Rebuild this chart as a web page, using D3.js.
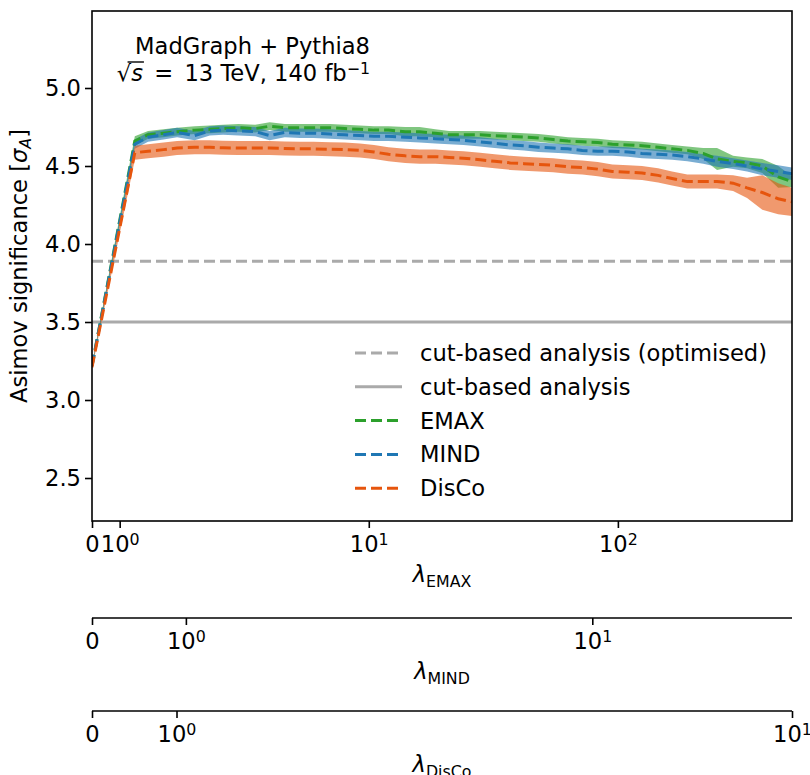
<!DOCTYPE html>
<html><head><meta charset="utf-8">
<script src="https://cdn.jsdelivr.net/npm/d3@7"></script>
<style>
body{margin:0;background:#fff}
svg text{font-family:"DejaVu Sans",sans-serif;fill:#000}
</style>
</head><body>
<svg id="c" width="810" height="775"></svg>
<script>
// ---------------- data ----------------
const lambdaEMAX = [0,1.15,1.3,1.5,1.7,2,2.3,2.6,3,3.5,4,4.6,5.3,6,7,8,9.2,10.5,12,14,16,18.5,21,24,28,32,37,42,48,55,63,72,83,95,110,125,145,165,190,220,250,290,330,380,440,500];
const emaxMean = [3.22,4.66,4.70,4.71,4.72,4.73,4.735,4.74,4.745,4.74,4.755,4.745,4.745,4.745,4.745,4.74,4.735,4.73,4.73,4.72,4.72,4.71,4.70,4.70,4.70,4.695,4.69,4.685,4.68,4.67,4.66,4.655,4.65,4.64,4.635,4.63,4.62,4.61,4.60,4.58,4.545,4.53,4.52,4.50,4.43,4.40];
const emaxErr  = [0.01,0.03,0.025,0.025,0.025,0.025,0.025,0.025,0.025,0.025,0.025,0.025,0.025,0.025,0.025,0.025,0.025,0.025,0.025,0.03,0.03,0.025,0.025,0.025,0.025,0.025,0.025,0.025,0.025,0.025,0.025,0.025,0.025,0.025,0.025,0.025,0.025,0.025,0.025,0.035,0.07,0.035,0.035,0.045,0.07,0.035];
const mindMean = [3.22,4.64,4.685,4.70,4.715,4.695,4.725,4.73,4.725,4.72,4.695,4.715,4.71,4.71,4.705,4.70,4.695,4.69,4.69,4.685,4.68,4.675,4.67,4.665,4.655,4.645,4.635,4.63,4.62,4.615,4.61,4.60,4.595,4.595,4.59,4.58,4.575,4.57,4.56,4.545,4.53,4.515,4.50,4.48,4.465,4.45];
const mindErr  = [0.01,0.03,0.03,0.03,0.03,0.03,0.03,0.03,0.03,0.03,0.03,0.03,0.03,0.03,0.03,0.03,0.03,0.03,0.03,0.03,0.03,0.03,0.03,0.03,0.03,0.03,0.03,0.03,0.03,0.03,0.03,0.03,0.03,0.03,0.03,0.03,0.03,0.03,0.03,0.03,0.035,0.035,0.035,0.04,0.04,0.04];
const discoMean = [3.21,4.585,4.595,4.605,4.615,4.62,4.62,4.617,4.615,4.615,4.615,4.612,4.61,4.61,4.607,4.605,4.60,4.59,4.575,4.565,4.56,4.56,4.555,4.55,4.54,4.53,4.52,4.515,4.51,4.505,4.495,4.49,4.48,4.465,4.46,4.455,4.44,4.42,4.40,4.40,4.40,4.39,4.36,4.33,4.29,4.27];
const discoErr  = [0.01,0.045,0.045,0.045,0.045,0.045,0.045,0.045,0.045,0.045,0.045,0.045,0.045,0.045,0.045,0.045,0.045,0.045,0.045,0.045,0.045,0.045,0.045,0.045,0.045,0.045,0.045,0.045,0.045,0.045,0.045,0.045,0.045,0.045,0.045,0.045,0.045,0.045,0.045,0.045,0.045,0.05,0.065,0.11,0.10,0.09];
const cutOptimised = 3.89;
const cutBased = 3.50;
const yTicks = [2.5,3.0,3.5,4.0,4.5,5.0];
const emaxTicks = [0,1,10,100];
const mindTicks = [0,1,10];
const discoTicks = [0,1,10];
const series = [
  {name:"EMAX",  mean:emaxMean,  err:emaxErr,  color:"#2ca02c", fill:"rgba(44,160,44,0.6)"},
  {name:"MIND",  mean:mindMean,  err:mindErr,  color:"#1f77b4", fill:"rgba(31,119,180,0.6)"},
  {name:"DisCo", mean:discoMean, err:discoErr, color:"#e6550d", fill:"rgba(230,85,13,0.6)"}
];

// ---------------- layout ----------------
const L=92, R=792, T=11, B=521;
const FS = 22.6;
const svg = d3.select("#c");

// symlog-like transform (linear below 1, log10 above)
const symT = a => v => v <= 1 ? v*a : a + Math.log10(v);
const tE = symT(0.1111), tM = symT(0.231), tD = symT(0.1373);
const xE = d3.scaleLinear().domain([0, tE(500)]).range([L,R]);
const xM = d3.scaleLinear().domain([0, tM(31)]).range([L,R]);
const xD = d3.scaleLinear().domain([0, tD(10)]).range([L,R]);
const y = d3.scaleLinear().domain([2.2244, 5.4936]).range([B,T]);

svg.append("defs").append("clipPath").attr("id","clip")
  .append("rect").attr("x",L).attr("y",T).attr("width",R-L).attr("height",B-T);
const plot = svg.append("g").attr("clip-path","url(#clip)");

// horizontal reference lines
plot.append("line").attr("x1",L).attr("x2",R).attr("y1",y(cutOptimised)).attr("y2",y(cutOptimised))
  .attr("stroke","#aaaaaa").attr("stroke-width",3).attr("stroke-dasharray","11,5");
plot.append("line").attr("x1",L).attr("x2",R).attr("y1",y(cutBased)).attr("y2",y(cutBased))
  .attr("stroke","#aaaaaa").attr("stroke-width",3);

const idx = d3.range(lambdaEMAX.length);
const px = i => xE(tE(lambdaEMAX[i]));
series.forEach(s => {
  const area = d3.area().x(px).y0(i => y(s.mean[i]-s.err[i])).y1(i => y(s.mean[i]+s.err[i]));
  plot.append("path").attr("d", area(idx)).attr("fill", s.fill).attr("stroke","none");
});
series.forEach(s => {
  const line = d3.line().x(px).y(i => y(s.mean[i]));
  plot.append("path").attr("d", line(idx)).attr("fill","none").attr("stroke", s.color)
    .attr("stroke-width",3).attr("stroke-dasharray","11,5");
});

// frame
svg.append("rect").attr("x",L).attr("y",T).attr("width",R-L).attr("height",B-T)
  .attr("fill","none").attr("stroke","#000").attr("stroke-width",1.6);

// y axis
const yAxis = svg.append("g").attr("transform",`translate(${L},0)`)
  .call(d3.axisLeft(y).tickValues(yTicks).tickFormat(d3.format(".1f")).tickSize(7).tickSizeOuter(0).tickPadding(4));
yAxis.select(".domain").remove();
yAxis.selectAll(".tick line").attr("stroke-width",1.6);
yAxis.selectAll(".tick text").attr("font-size",FS).attr("font-family","DejaVu Sans");

// x axes
function xAxis(scale, tf, ticks, yPos, label, drawDomain){
  const g = svg.append("g").attr("transform",`translate(0,${yPos})`)
    .call(d3.axisBottom(scale).tickValues(ticks.map(tf)).tickFormat("").tickSize(7).tickSizeOuter(0));
  if(drawDomain){ g.select(".domain").attr("stroke-width",1.6).attr("d",`M${L},0H${R}`); }
  else g.select(".domain").remove();
  g.selectAll(".tick line").attr("stroke-width",1.6);
  g.selectAll(".tick text").each(function(d,i){
    const v = ticks[i];
    const t = d3.select(this).attr("y",31).attr("dy",null).attr("font-size",FS).attr("font-family","DejaVu Sans");
    if(v===0){ t.text("0"); }
    else {
      t.text("");
      t.append("tspan").text("10");
      t.append("tspan").attr("dy","-0.45em").attr("font-size","70%").text(String(Math.round(Math.log10(v))));
    }
  });
  const lt = svg.append("text").attr("x",(L+R)/2).attr("y",yPos+61).attr("text-anchor","middle").attr("font-size",FS);
  lt.append("tspan").attr("font-style","italic").text("λ");
  lt.append("tspan").attr("dy",4.5).attr("font-size","70%").text(label);
}
xAxis(xE, tE, emaxTicks, B, "EMAX", false);
xAxis(xM, tM, mindTicks, 618, "MIND", true);
xAxis(xD, tD, discoTicks, 711, "DisCo", true);

// y label
const yl = svg.append("text").attr("transform","translate(27,266) rotate(-90)")
  .attr("text-anchor","middle").attr("font-size",FS);
yl.append("tspan").text("Asimov significance [");
yl.append("tspan").attr("font-style","italic").text("σ");
yl.append("tspan").attr("dy",4).attr("font-size","70%").attr("font-style","italic").text("A");
yl.append("tspan").attr("dy",-4).text("]");

// annotation
svg.append("text").attr("x",370).attr("y",54).attr("text-anchor","end").attr("font-size",FS).text("MadGraph + Pythia8");
const t2 = svg.append("text").attr("x",370).attr("y",81).attr("text-anchor","end").attr("font-size",FS);
t2.append("tspan").text("√");
t2.append("tspan").attr("font-style","italic").text("s");
t2.append("tspan").text("\u2002=\u200213 TeV, 140 fb");
t2.append("tspan").attr("dy","-0.45em").attr("font-size","70%").text("−1");
{
  const node = t2.node();
  const r0 = node.getExtentOfChar(0), r1 = node.getExtentOfChar(1);
  svg.append("line").attr("x1", r0.x + r0.width*0.75).attr("x2", r1.x + r1.width + 1)
    .attr("y1", r0.y + 2).attr("y2", r0.y + 2).attr("stroke","#000").attr("stroke-width",1.4);
}

// legend
const legend = [
  {label:"cut-based analysis (optimised)", color:"#aaaaaa", dash:"11,5"},
  {label:"cut-based analysis", color:"#aaaaaa", dash:null},
  {label:"EMAX", color:"#2ca02c", dash:"11,5"},
  {label:"MIND", color:"#1f77b4", dash:"11,5"},
  {label:"DisCo", color:"#e6550d", dash:"11,5"}
];
legend.forEach((d,i) => {
  const cy = 353 + i*33.8;
  svg.append("line").attr("x1",355).attr("x2",402).attr("y1",cy).attr("y2",cy)
    .attr("stroke",d.color).attr("stroke-width",3).attr("stroke-dasharray",d.dash);
  svg.append("text").attr("x",420).attr("y",cy+8).attr("font-size",FS).text(d.label);
});
</script>
</body></html>
